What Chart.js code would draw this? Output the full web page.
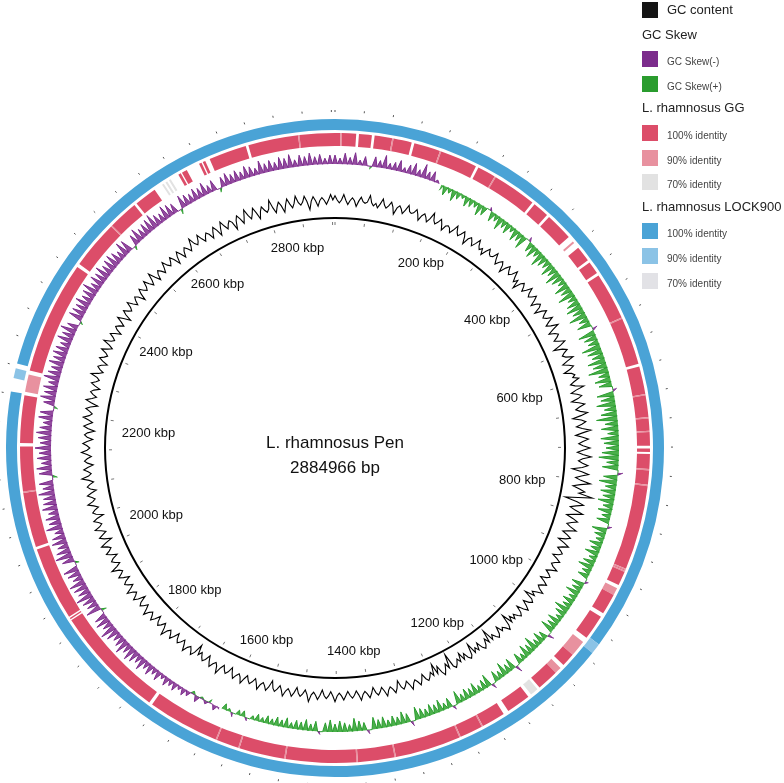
<!DOCTYPE html>
<html><head><meta charset="utf-8">
<script src="https://cdn.jsdelivr.net/npm/chart.js@4.4.1/dist/chart.umd.min.js"></script>
<style>
html,body{margin:0;padding:0;background:#fff;width:784px;height:783px;overflow:hidden;font-family:"Liberation Sans",Arial,Helvetica,sans-serif;color:#111;}
.cv{position:absolute;left:-15px;top:98px;width:700px;height:700px;}
.ctr{position:absolute;left:185px;width:300px;text-align:center;font-size:17px;line-height:20px;color:#111;}
.tk{position:absolute;font-size:13px;line-height:14px;white-space:nowrap;transform:translate(-50%,-50%);color:#111;}
#legend{position:absolute;left:642px;top:0;width:142px;}
.row{position:absolute;left:0;height:20px;white-space:nowrap;}
.sq{position:absolute;left:0;top:2px;width:16px;height:16px;}
.hd{position:absolute;left:0;top:2px;font-size:13px;line-height:16px;color:#222;}
.lb{position:absolute;left:25px;font-size:13px;line-height:16px;top:2px;color:#222;}
.sm{font-size:10px;top:5px;color:#444;}
</style></head><body>
<canvas id="rings" class="cv" width="700" height="700"></canvas>
<canvas id="tracks" class="cv" width="700" height="700"></canvas>
<div class="ctr" style="top:433px">L. rhamnosus Pen</div>
<div class="ctr" style="top:458px">2884966 bp</div>
<div id="legend"></div>
<script>
// ---------------- DATA ----------------
const genomeName = "L. rhamnosus Pen";
const genomeBp = 2884966;
const tickKbp = [200,400,600,800,1000,1200,1400,1600,1800,2000,2200,2400,2600,2800];

// GC content deviation from the genome mean, per 1/360 window (arbitrary units)
const gcContent = [
3,-2,4,-3,2,-4,3,-1,5,-2, -3,4,-2,3,-5,2,-3,4,-1,3, -4,2,-3,5,-2,3,-4,1,-3,4, -2,3,-5,2,-3,4,-2,-4,3,-1,
4,-3,2,-5,3,-2,4,-3,-6,2, -3,4,-2,3,-4,2,-5,3,-2,4, -3,5,-4,2,-3,4,-6,3,-2,5, -4,3,-5,2,4,-3,6,-4,3,-5,
4,-3,5,-6,3,-4,6,-5,4,-3, 5,-4,6,-3,4,-7,5,-4,7,-5, 4,10,-9,5,-4,6,-5,4,-3,5, -4,3,-5,4,-3,2,-4,3,-2,4,
-3,2,-4,3,-2,4,-3,-7,2,-4, 3,-5,2,-3,-4,-8,3,-2,-5,2, -3,-9,-4,2,-5,-3,-8,2,-4,-6, -3,2,-10,-4,3,-5,-8,-3,2,-4,
3,-2,4,-3,2,-5,3,-2,4,-3, 2,-4,3,-2,4,-3,2,-3,3,-2, 4,-3,2,-4,3,-2,5,-3,2,-4, 3,-2,4,-3,2,-5,3,-2,4,-3,
2,-3,4,-2,3,-4,2,-3,5,-2, 3,-4,2,-3,-7,3,-2,4,-3,2, -4,3,-2,5,-3,2,-4,3,-2,4, -3,2,-5,3,-2,4,-3,2,-4,3,
-2,5,-3,2,-4,3,-2,4,-5,3, -3,4,-2,3,-5,2,-3,4,-2,3, -4,2,-3,5,-2,3,-4,2,-3,4, -2,3,-4,2,-5,3,-3,4,-2,3,
-5,4,-3,2,-4,3,-2,5,-3,2, -4,3,-2,4,-3,5,-2,3,-4,2, -3,4,-5,3,-2,4,-3,2,-5,3, -2,4,-3,5,-4,2,-3,4,-2,3,
-5,3,-4,2,-3,5,-2,4,-3,2, -4,3,-5,4,-3,2,-6,3,-4,5, -3,4,-5,3,-2,6,-4,3,-5,4, -3,5,-2,4,-6,3,-4,2,-3,4];

// GC skew per 1/360 window (x100): positive = GC Skew(+), negative = GC Skew(-)
const gcSkew = [
-9,-6,-11,-7,-12,-5,-9,3,-10,-7, -13,-6,-8,-11,-5,-9,-12,-7,-14,-8, -10,-3,6,9,5,11,7,4,10,8, 6,12,9,-3,10,7,13,8,11,6,
12,9,14,-4,10,13,8,15,11,9, 14,10,16,12,8,15,11,17,9,13, 16,12,18,10,14,-5,17,13,11,19, 15,12,18,14,20,11,16,13,-4,17,
14,19,12,16,21,13,17,11,18,15, 13,17,20,12,16,-5,14,18,11,15, 12,16,10,14,9,13,-4,15,11,8, 13,10,14,8,12,15,9,11,-3,13,
10,14,8,12,9,15,11,7,13,10, 14,-6,9,12,8,15,10,13,7,11, -7,12,9,14,8,11,-5,13,10,7, 12,9,11,8,13,-4,10,7,12,9,
11,8,10,13,-5,9,12,8,10,7, 11,9,12,-4,8,10,13,7,9,11, 8,12,9,-3,10,7,11,8,9,6, 10,7,9,6,8,5,7,4,-3,6,
5,-4,3,6,-2,-5,4,-3,2,-6, 3,-5,-7,-4,-8,-6,-9,-5,-10,-7, -11,-8,-13,-9,-12,-14,-10,-15,-11,-9, -13,-16,-10,-14,-12,5,-15,-11,-13,-17,
-12,-14,-16,-10,-13,-15,4,-12,-17,-14, -11,-15,-13,-9,-16,-12,-14,-10,-15,-13, -12,-16,-11,-14,5,-13,-15,-10,-14,-12, -16,-11,-13,-15,-12,-9,-14,-13,4,-11,
-15,-12,-14,-10,-16,-13,-11,-15,-12,-14, -13,-10,-15,-12,-16,-11,3,-14,-13,-12, -15,-11,-13,-16,-10,-14,-12,-15,-11,-13, -14,-12,-9,-15,-13,4,-11,-14,-10,-12,
-13,-15,-11,-9,-14,-12,-10,5,-13,-11, -9,-12,-10,-13,-8,-11,4,-10,-12,-9, -11,-8,-12,-10,-7,-13,-9,-11,-8,-12, -10,-13,-7,-11,-9,-12,-8,-10,-6,-9];

// BLAST ring L. rhamnosus GG: segment start (kbp) and identity class (0 = no hit)
const ggStart = [0,8,10,31,35,54,58,84,86,113,117,156,158,213,217,244,246,311,315,339,343,384,393,396,405,428,432,451,455,525,527,597,601,642,644,676,678,696,698,718,722,727,730,752,754,775,777,902,904,905,907,928,933,944,975,981,1018,1026,1050,1070,1076,1086,1118,1122,1134,1139,1175,1183,1218,1220,1254,1256,1353,1355,1409,1411,1515,1517,1584,1586,1619,1621,1727,1732,1898,1900,1902,1904,2013,2017,2098,2100,2166,2171,2241,2246,2272,2278,2445,2450,2522,2524,2568,2572,2605,2618,2621,2624,2627,2630,2633,2646,2650,2652,2660,2680,2684,2686,2690,2697,2753,2757,2831,2833];
const ggIdentity = [100,90,100,0,100,0,100,90,100,0,100,90,100,0,100,90,100,0,100,0,100,0,90,0,100,0,100,0,100,90,100,0,100,90,100,90,100,90,100,0,100,0,100,90,100,90,100,90,100,90,100,0,90,100,0,100,0,90,100,0,90,100,0,70,0,100,0,100,90,100,90,100,90,100,90,100,90,100,90,100,90,100,0,100,0,100,0,100,0,100,90,100,0,100,0,90,0,100,0,100,90,100,0,100,0,70,0,70,0,70,0,100,0,100,0,100,0,100,0,100,0,100,90,100];

// BLAST ring L. rhamnosus LOCK900
const lockStart = [0,1015,1030,2243,2262,2276,2283];
const lockIdentity = [100,90,100,0,90,0,100];

// ---------------- STYLE / LAYOUT ----------------
const COL = {
  gc:'#000000', skewNeg:'#7c2c8c', skewNegFill:'rgba(128,44,142,0.85)', skewPos:'#2a9c2e', skewPosFill:'rgba(44,162,44,0.85)',
  gg:{100:'#dc4d69',90:'#e8919f',70:'#e2e2e2',0:'rgba(255,255,255,0)'},
  lock:{100:'#4aa3d6',90:'#8bc3e6',70:'#e2e2e6',0:'rgba(255,255,255,0)'}
};
const R = {max:350, blueOut:329, blueIn:318, redOut:315, redIn:302, skew:284, gc:248, backbone:230, label:204};
const GC_GAIN = 1.4;
const genomeKbp = genomeBp/1000;

function lengths(starts){ return starts.map((s,i)=> (i+1<starts.length?starts[i+1]:genomeKbp) - s); }
// each window becomes a spike from the track baseline (peak, then back to baseline)
function spikes(values, base, f){
  const c = values.map(f);
  return c.flatMap((d,i) => {
    if (d !== null) return [base + d, base];
    const prev = c[(i-1+c.length)%c.length], next = c[(i+1)%c.length];
    return (prev !== null && next !== null) ? [base, base] : [null, null];
  });
}

// ---------------- RINGS (doughnut) ----------------
new Chart(document.getElementById('rings'), {
  type:'doughnut',
  data:{ datasets:[
    {data:lengths(lockStart), backgroundColor:lockIdentity.map(v=>COL.lock[v]), borderWidth:0, hoverOffset:0, weight:R.blueOut-R.blueIn},
    {data:[genomeKbp], backgroundColor:'rgba(0,0,0,0)', borderWidth:0, hoverOffset:0, weight:R.blueIn-R.redOut},
    {data:lengths(ggStart), backgroundColor:ggIdentity.map(v=>COL.gg[v]), borderWidth:0, hoverOffset:0, weight:R.redOut-R.redIn}
  ]},
  options:{responsive:false, animation:false, events:[], radius:R.blueOut,
    cutout:(R.redIn/R.blueOut*100)+'%', layout:{padding:0},
    plugins:{legend:{display:false}, tooltip:{enabled:false}}}
});

// ---------------- TRACKS (radar) ----------------
const decor = {
  id:'decor',
  afterDraw(chart){
    const s = chart.scales.r, ctx = chart.ctx, n = chart.data.labels.length;
    const pt = (kbp, r) => s.getPointPosition(kbp/genomeKbp*n, s.getDistanceFromCenterForValue(r));
    ctx.save();
    ctx.strokeStyle = '#777'; ctx.lineWidth = 1;
    for (let k=0; k<genomeKbp; k+=60){ const a=pt(k,R.backbone-7), b=pt(k,R.backbone-4); ctx.beginPath(); ctx.moveTo(a.x,a.y); ctx.lineTo(b.x,b.y); ctx.stroke(); }
    ctx.strokeStyle = '#555';
    for (let k=0; k<genomeKbp; k+=40){ const a=pt(k,R.blueOut+7), b=pt(k,R.blueOut+9); ctx.beginPath(); ctx.moveTo(a.x,a.y); ctx.lineTo(b.x,b.y); ctx.stroke(); }
    ctx.restore();
    if (!chart._tickDivs){
      chart._tickDivs = true;
      const cv = chart.canvas;
      ctx.save(); ctx.font = '13px "Liberation Sans", Arial, sans-serif';
      tickKbp.forEach(k=>{
        const txt = k + ' kbp';
        const w = ctx.measureText(txt).width;
        const sn = Math.abs(Math.sin(k/genomeKbp*2*Math.PI));
        const p = pt(k, R.label - 16*(w/50)*Math.pow(sn,4));
        const d = document.createElement('div');
        d.className='tk'; d.textContent = txt;
        d.style.left = (cv.offsetLeft + p.x)+'px'; d.style.top = (cv.offsetTop + p.y)+'px';
        document.body.appendChild(d);
      });
      ctx.restore();
    }
  }
};

new Chart(document.getElementById('tracks'), {
  type:'radar',
  data:{ labels: spikes(gcContent, 0, v=>v).map(()=>''), datasets:[
    {data: spikes(gcContent, R.gc, v=>v*GC_GAIN), fill:false, borderColor:COL.gc, borderWidth:1.1},
    {data: spikes(gcSkew, R.skew, v=> v<0 ? -v : null), fill:{value:R.skew}, backgroundColor:COL.skewNegFill, borderColor:COL.skewNeg, borderWidth:1},
    {data: spikes(gcSkew, R.skew, v=> v>0 ? -v : null), fill:{value:R.skew}, backgroundColor:COL.skewPosFill, borderColor:COL.skewPos, borderWidth:1}
  ]},
  options:{responsive:false, animation:false, events:[], spanGaps:false,
    elements:{point:{radius:0, hoverRadius:0}, line:{tension:0}},
    plugins:{legend:{display:false}, tooltip:{enabled:false}, filler:{propagate:false}},
    scales:{ r:{ min:0, max:R.max, startAngle:0,
      grid:{circular:true, color:'#000', lineWidth:2},
      angleLines:{display:false}, pointLabels:{display:false}, ticks:{display:false},
      afterBuildTicks:(sc)=>{ sc.ticks=[{value:0},{value:R.backbone}]; } } } },
  plugins:[decor]
});

// ---------------- LEGEND ----------------
const legendRows = [
  {swatch:'#141414', text:'GC content', small:false},
  {head:'GC Skew'},
  {swatch:COL.skewNeg, text:'GC Skew(-)', small:true},
  {swatch:COL.skewPos, text:'GC Skew(+)', small:true},
  {head:'L. rhamnosus GG'},
  {swatch:COL.gg[100], text:'100% identity', small:true},
  {swatch:COL.gg[90], text:'90% identity', small:true},
  {swatch:COL.gg[70], text:'70% identity', small:true},
  {head:'L. rhamnosus LOCK900'},
  {swatch:COL.lock[100], text:'100% identity', small:true},
  {swatch:COL.lock[90], text:'90% identity', small:true},
  {swatch:COL.lock[70], text:'70% identity', small:true}
];
const lg = document.getElementById('legend');
legendRows.forEach((row,i)=>{
  const r = document.createElement('div'); r.className='row';
  r.style.top = (i*24.6)+'px';
  if (row.head){ r.innerHTML = '<div class="hd">'+row.head+'</div>'; }
  else { r.innerHTML = '<div class="sq" style="background:'+row.swatch+'"></div><div class="lb'+(row.small?' sm':'')+'">'+row.text+'</div>'; }
  lg.appendChild(r);
});
</script>
</body></html>
